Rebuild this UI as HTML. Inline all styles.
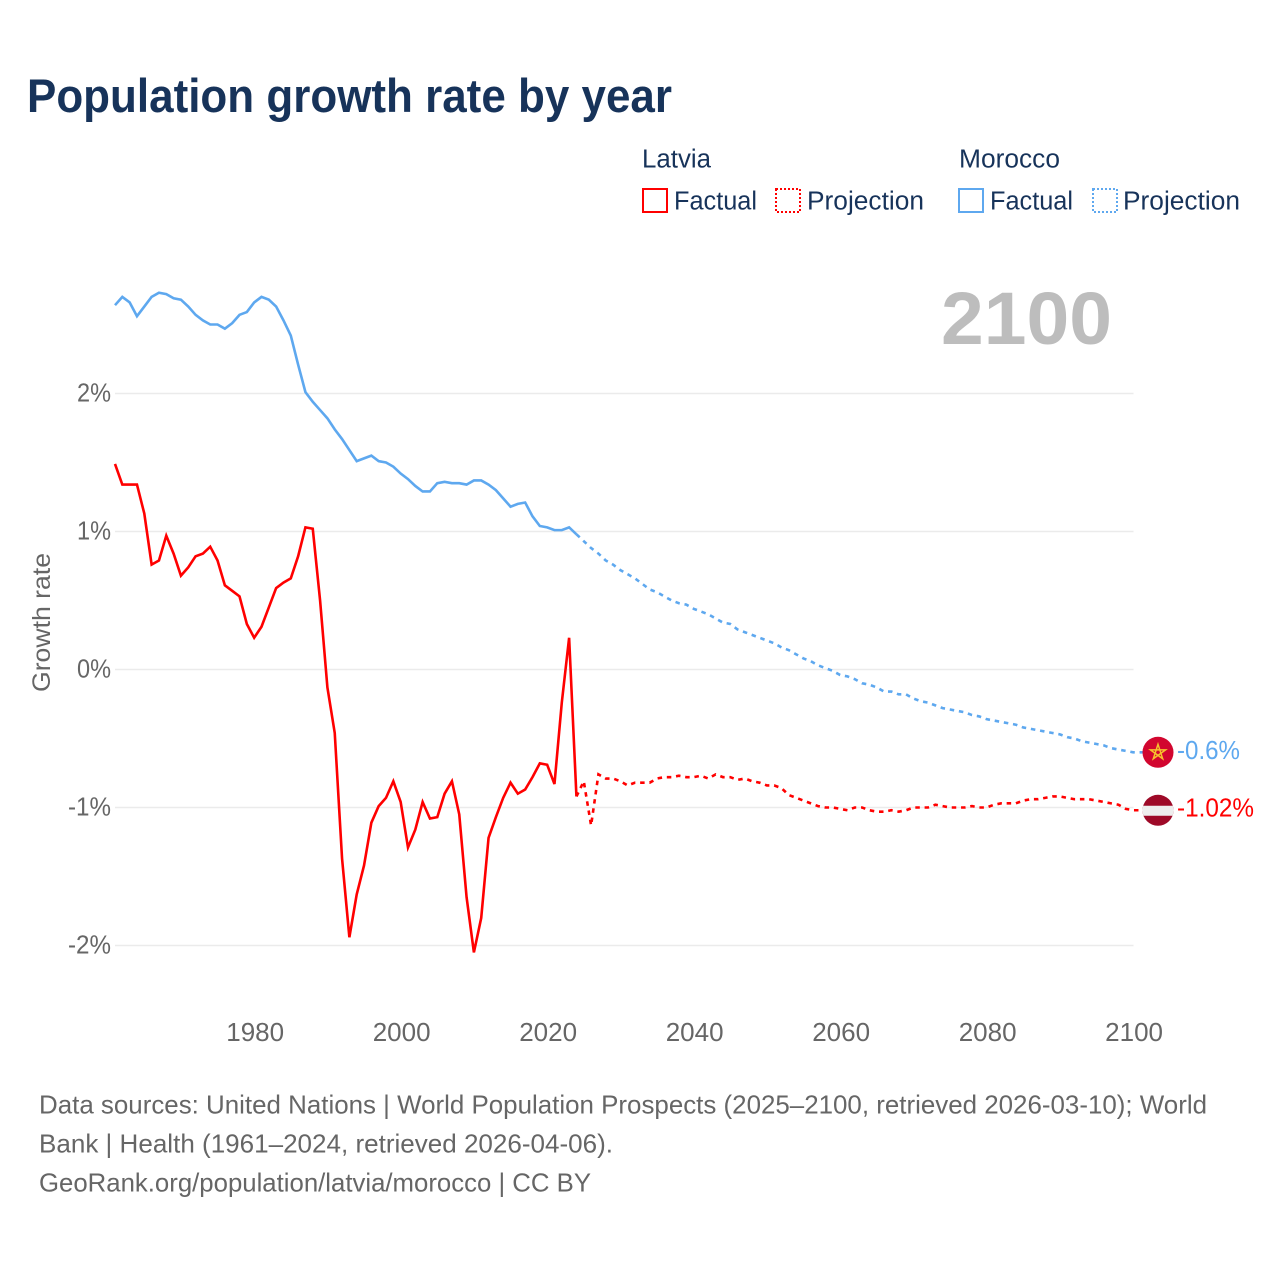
<!DOCTYPE html>
<html lang="en">
<head>
<meta charset="utf-8">
<title>Population growth rate by year</title>
<style>
html,body{margin:0;padding:0;background:#fff;}
svg{display:block;font-family:"Liberation Sans",sans-serif;}
</style>
</head>
<body>
<svg id="chart" xmlns="http://www.w3.org/2000/svg" width="1280" height="1280" viewBox="0 0 1280 1280">
  <rect width="1280" height="1280" fill="#ffffff"/>
  <text x="27" y="112" font-size="47" font-weight="700" fill="#17335a" textLength="645" lengthAdjust="spacingAndGlyphs">Population growth rate by year</text>

  <g font-size="25.5" fill="#17335a">
    <text x="642" y="167.5" textLength="69" lengthAdjust="spacingAndGlyphs">Latvia</text>
    <text x="959" y="167.5" textLength="101" lengthAdjust="spacingAndGlyphs">Morocco</text>
    <rect x="643" y="189" width="24" height="23" fill="none" stroke="#ff0000" stroke-width="2"/>
    <text x="674" y="209.5" textLength="83" lengthAdjust="spacingAndGlyphs">Factual</text>
    <rect x="776" y="189" width="24" height="23" fill="none" stroke="#ff0000" stroke-width="2" stroke-dasharray="2 2"/>
    <text x="807" y="209.5" textLength="117" lengthAdjust="spacingAndGlyphs">Projection</text>
    <rect x="959" y="189" width="24" height="23" fill="none" stroke="#5ea8ef" stroke-width="2"/>
    <text x="990" y="209.5" textLength="83" lengthAdjust="spacingAndGlyphs">Factual</text>
    <rect x="1093" y="189" width="24" height="23" fill="none" stroke="#5ea8ef" stroke-width="2" stroke-dasharray="2 2"/>
    <text x="1123" y="209.5" textLength="117" lengthAdjust="spacingAndGlyphs">Projection</text>
  </g>

  <g id="grid"></g>
  <text x="941" y="344" font-size="74" font-weight="700" fill="#bdbdbd" textLength="171" lengthAdjust="spacingAndGlyphs">2100</text>
  <g id="yticks" font-size="26" fill="#666666" text-anchor="end"></g>
  <g id="xticks" font-size="26" fill="#666666" text-anchor="middle"></g>
  <text transform="translate(50,692) rotate(-90)" font-size="25" fill="#666666" textLength="139" lengthAdjust="spacingAndGlyphs">Growth rate</text>
  <g id="series"></g>

  <g id="flag-morocco">
    <circle r="15.5" fill="#d2062f"/>
    <path d="M0,-8 L4.7,6.47 L-7.61,-2.47 L7.61,-2.47 L-4.7,6.47 Z" fill="none" stroke="#f6c22d" stroke-width="1.5" stroke-linejoin="miter"/>
  </g>
  <g id="flag-latvia">
    <clipPath id="latvia-clip"><circle r="15.5"/></clipPath>
    <g clip-path="url(#latvia-clip)">
      <rect x="-16" y="-16" width="32" height="32" fill="#9e0a28"/>
      <rect x="-16" y="-4.5" width="32" height="10" fill="#eeeeee"/>
    </g>
  </g>
  <text id="label-morocco" x="1177" font-size="25.5" fill="#5ea8ef" textLength="63" lengthAdjust="spacingAndGlyphs"></text>
  <text id="label-latvia" x="1177" font-size="25.5" fill="#ff0000" textLength="77" lengthAdjust="spacingAndGlyphs"></text>

  <g font-size="26" fill="#666666">
    <text x="39" y="1113.5" textLength="1168" lengthAdjust="spacingAndGlyphs">Data sources: United Nations | World Population Prospects (2025–2100, retrieved 2026-03-10); World</text>
    <text x="39" y="1152.5" textLength="574" lengthAdjust="spacingAndGlyphs">Bank | Health (1961–2024, retrieved 2026-04-06).</text>
    <a><text x="39" y="1191.5" textLength="552" lengthAdjust="spacingAndGlyphs">GeoRank.org/population/latvia/morocco | CC BY</text></a>
  </g>
</svg>
<script>
const firstFactualYear = 1961;
const firstProjectionYear = 2024;
const xTickYears = [1980, 2000, 2020, 2040, 2060, 2080, 2100];
const yTickValues = [2, 1, 0, -1, -2];
const latviaFactual = [
  1.49,1.34,1.34,1.34,1.13,0.76,0.79,0.97,0.84,0.68,
  0.74,0.82,0.84,0.89,0.79,0.61,0.57,0.53,0.33,0.23,
  0.31,0.45,0.59,0.63,0.66,0.82,1.03,1.02,0.50,-0.13,
  -0.46,-1.37,-1.94,-1.63,-1.42,-1.11,-0.99,-0.93,-0.81,-0.96,
  -1.29,-1.16,-0.96,-1.08,-1.07,-0.90,-0.81,-1.05,-1.65,-2.05,
  -1.80,-1.22,-1.07,-0.93,-0.82,-0.90,-0.87,-0.78,-0.68,-0.69,
  -0.83,-0.24,0.23,-0.92
];
const latviaProjection = [
  -0.92,-0.81,-1.13,-0.76,-0.79,-0.79,-0.81,
  -0.84,-0.82,-0.82,-0.82,-0.79,-0.78,-0.78,-0.77,-0.78,-0.78,
  -0.77,-0.79,-0.76,-0.78,-0.78,-0.80,-0.79,-0.81,-0.82,-0.84,
  -0.84,-0.86,-0.91,-0.93,-0.95,-0.97,-0.99,-1.00,-1.00,-1.01,
  -1.02,-1.00,-1.00,-1.02,-1.03,-1.03,-1.02,-1.03,-1.02,-1.00,
  -1.00,-1.00,-0.98,-0.99,-1.00,-1.00,-1.00,-0.99,-1.00,-1.00,
  -0.98,-0.97,-0.97,-0.97,-0.95,-0.94,-0.94,-0.93,-0.92,-0.92,
  -0.93,-0.94,-0.94,-0.94,-0.95,-0.96,-0.97,-0.98,-1.01,-1.02
];
const moroccoFactual = [
  2.64,2.70,2.66,2.56,2.63,2.70,2.73,2.72,2.69,2.68,
  2.63,2.57,2.53,2.50,2.50,2.47,2.51,2.57,2.59,2.66,
  2.70,2.68,2.63,2.53,2.42,2.21,2.01,1.94,1.88,1.82,
  1.74,1.67,1.59,1.51,1.53,1.55,1.51,1.50,1.47,1.42,
  1.38,1.33,1.29,1.29,1.35,1.36,1.35,1.35,1.34,1.37,
  1.37,1.34,1.30,1.24,1.18,1.20,1.21,1.11,1.04,1.03,
  1.01,1.01,1.03,0.98
];
const moroccoProjection = [
  0.98,0.93,0.88,0.84,0.79,0.76,0.72,
  0.69,0.66,0.62,0.58,0.56,0.53,0.50,0.48,0.47,0.44,
  0.42,0.40,0.37,0.34,0.33,0.29,0.27,0.25,0.23,0.21,
  0.19,0.16,0.14,0.11,0.08,0.06,0.03,0.01,-0.01,-0.04,
  -0.05,-0.07,-0.10,-0.11,-0.13,-0.16,-0.16,-0.18,-0.18,-0.21,
  -0.23,-0.24,-0.26,-0.28,-0.29,-0.30,-0.31,-0.33,-0.34,-0.36,
  -0.37,-0.38,-0.39,-0.40,-0.42,-0.43,-0.44,-0.45,-0.46,-0.47,
  -0.49,-0.50,-0.52,-0.53,-0.54,-0.55,-0.57,-0.58,-0.59,-0.60
];

const NS = 'http://www.w3.org/2000/svg';
const RED = '#ff0000';
const BLUE = '#5ea8ef';
const xScale = year => 115 + (year - 1961) * 7.3245;
const yScale = value => 669.5 - 138 * value;
const FLAG_X = 1158;

function make(tag, parent) {
  const el = document.createElementNS(NS, tag);
  parent.appendChild(el);
  return el;
}

const grid = document.getElementById('grid');
const yticks = document.getElementById('yticks');
const xticks = document.getElementById('xticks');
const series = document.getElementById('series');

yTickValues.forEach(value => {
  const line = make('line', grid);
  
  
  line.setAttribute('x1', 115);
  line.setAttribute('x2', 1133.5);
  line.setAttribute('y1', yScale(value));
  line.setAttribute('y2', yScale(value));
  line.setAttribute('stroke', '#ebebeb');
  line.setAttribute('stroke-width', '1.5');

  const label = make('text', yticks);
  
  
  const str = value + '%';
  label.textContent = str;
  label.setAttribute('x', 111);
  label.setAttribute('y', yScale(value) + 8);
  label.setAttribute('textLength', 9 * str.length + 16);
  label.setAttribute('lengthAdjust', 'spacingAndGlyphs');
});

xTickYears.forEach(year => {
  const label = make('text', xticks);
  
  
  label.textContent = String(year);
  label.setAttribute('x', xScale(year) + 1);
  label.setAttribute('y', 1041);
});

function drawLine(values, startYear, color, dashed, toFlag) {
  const pts = values.map((v, i) => xScale(startYear + i).toFixed(2) + ',' + yScale(v).toFixed(2));
  if (toFlag) {
    const lastY = yScale(values[values.length - 1]).toFixed(2);
    pts.push((FLAG_X - 15) + ',' + lastY);
  }
  const line = make('polyline', series);
  
  
  line.setAttribute('points', pts.join(' '));
  line.setAttribute('fill', 'none');
  line.setAttribute('stroke', color);
  line.setAttribute('stroke-width', '2.6');
  line.setAttribute('stroke-linejoin', 'miter');
  if (dashed) line.setAttribute('stroke-dasharray', '4.5 4.8');
}

drawLine(moroccoProjection, firstProjectionYear, BLUE, true, true);
drawLine(latviaProjection, firstProjectionYear, RED, true, true);
drawLine(moroccoFactual, firstFactualYear, BLUE, false, false);
drawLine(latviaFactual, firstFactualYear, RED, false, false);

const moroccoLast = moroccoProjection[moroccoProjection.length - 1];
const latviaLast = latviaProjection[latviaProjection.length - 1];
document.getElementById('flag-morocco').setAttribute('transform', 'translate(' + FLAG_X + ',' + yScale(moroccoLast) + ')');
document.getElementById('flag-latvia').setAttribute('transform', 'translate(' + FLAG_X + ',' + yScale(latviaLast) + ')');
const labelMorocco = document.getElementById('label-morocco');
labelMorocco.textContent = moroccoLast + '%';
labelMorocco.setAttribute('y', yScale(moroccoLast) + 6.5);
const labelLatvia = document.getElementById('label-latvia');
labelLatvia.textContent = latviaLast + '%';
labelLatvia.setAttribute('y', yScale(latviaLast) + 6);
</script>
</body>
</html>
